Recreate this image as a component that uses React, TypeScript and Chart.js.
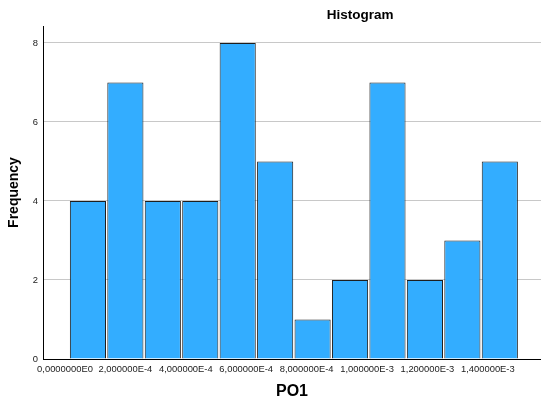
import React, { useEffect, useRef } from "react";
import { Chart, registerables } from "chart.js";

Chart.register(...registerables);

const binCenters = [0.5, 1.5, 2.5, 3.5, 4.5, 5.5, 6.5, 7.5, 8.5, 9.5, 10.5, 11.5];
const frequencies = [4, 7, 4, 4, 8, 5, 1, 2, 7, 2, 3, 5];
const xTickLabels = [
  "0,0000000E0",
  "2,000000E-4",
  "4,000000E-4",
  "6,000000E-4",
  "8,000000E-4",
  "1,000000E-3",
  "1,200000E-3",
  "1,400000E-3",
];
const yTickValues = [0, 2, 4, 6, 8];
const chartTitle = "Histogram";
const xTitle = "PO1";
const yTitle = "Frequency";

const FONT = "'Liberation Sans', Arial, sans-serif";

export default function App() {
  const ref = useRef<HTMLCanvasElement | null>(null);

  useEffect(() => {
    document.body.style.margin = "0";
    const canvas = ref.current;
    if (!canvas) return;

    const titlePlugin = {
      id: "spssTitle",
      afterDraw(chart: any) {
        const ctx = chart.ctx;
        const xs = chart.scales.x;
        ctx.save();
        ctx.font = `bold 13.5px ${FONT}`;
        ctx.fillStyle = "#000";
        ctx.textAlign = "center";
        ctx.textBaseline = "middle";
        ctx.fillText(chartTitle, xs.getPixelForValue(7.77), 15);
        ctx.restore();
      },
    };

    const chart = new Chart(canvas, {
      type: "bar",
      data: {
        datasets: [
          {
            data: binCenters.map((c, i) => ({ x: c, y: frequencies[i] })),
            backgroundColor: "#33adff",
            borderColor: "#1e1e1e",
            borderWidth: 1,
            barPercentage: 0.965,
            categoryPercentage: 1,
            xAxisID: "x",
            yAxisID: "y",
          },
        ],
      },
      plugins: [titlePlugin],
      options: {
        responsive: false,
        animation: false,
        layout: { padding: { top: 26, right: 0, left: 0, bottom: 0 } },
        plugins: {
          legend: { display: false },
          tooltip: { enabled: false },
          title: { display: false },
        },
        scales: {
          x: {
            type: "linear",
            position: "bottom",
            offset: false,
            min: -0.7,
            max: 12.6,
            grid: { display: false, drawTicks: false, offset: false },
            border: { display: true, color: "#000", width: 1 },
            ticks: { display: false },
            afterFit(axis: any) {
              axis.height = 0;
            },
          },
          xt: {
            type: "linear",
            position: "bottom",
            offset: false,
            min: -0.364,
            max: 7.88,
            grid: { display: false, drawTicks: false, offset: false },
            border: { display: false },
            afterBuildTicks(axis: any) {
              axis.ticks = xTickLabels.map((_, i) => ({ value: i }));
            },
            ticks: {
              autoSkip: false,
              maxRotation: 0,
              minRotation: 0,
              padding: 5,
              color: "#1a1a1a",
              font: { family: FONT, size: 9.4 },
              callback: (v: any) => xTickLabels[Number(v)] ?? "",
            },
            title: {
              display: true,
              text: xTitle,
              color: "#000",
              font: { family: FONT, size: 16, weight: "bold" },
              padding: { top: 0, bottom: 7 },
            },
            afterFit(axis: any) {
              axis.height = 49;
            },
          },
          y: {
            type: "linear",
            min: 0,
            max: 8.43,
            grid: { color: "#c8c8c8", lineWidth: 1, drawTicks: false },
            border: { display: true, color: "#000", width: 1 },
            afterBuildTicks(axis: any) {
              axis.ticks = yTickValues.map((v) => ({ value: v }));
            },
            ticks: {
              padding: 5,
              color: "#1a1a1a",
              font: { family: FONT, size: 9.4 },
            },
            title: {
              display: true,
              text: yTitle,
              color: "#000",
              font: { family: FONT, size: 14, weight: "bold" },
              padding: { top: 6, bottom: 0 },
            },
            afterFit(axis: any) {
              axis.width = 43;
            },
          },
        },
      },
    } as any);

    return () => chart.destroy();
  }, []);

  return (
    <div style={{ position: "absolute", left: 0, top: 0, width: 541, height: 408, background: "#fff" }}>
      <canvas ref={ref} width={541} height={408} style={{ display: "block" }} />
    </div>
  );
}
